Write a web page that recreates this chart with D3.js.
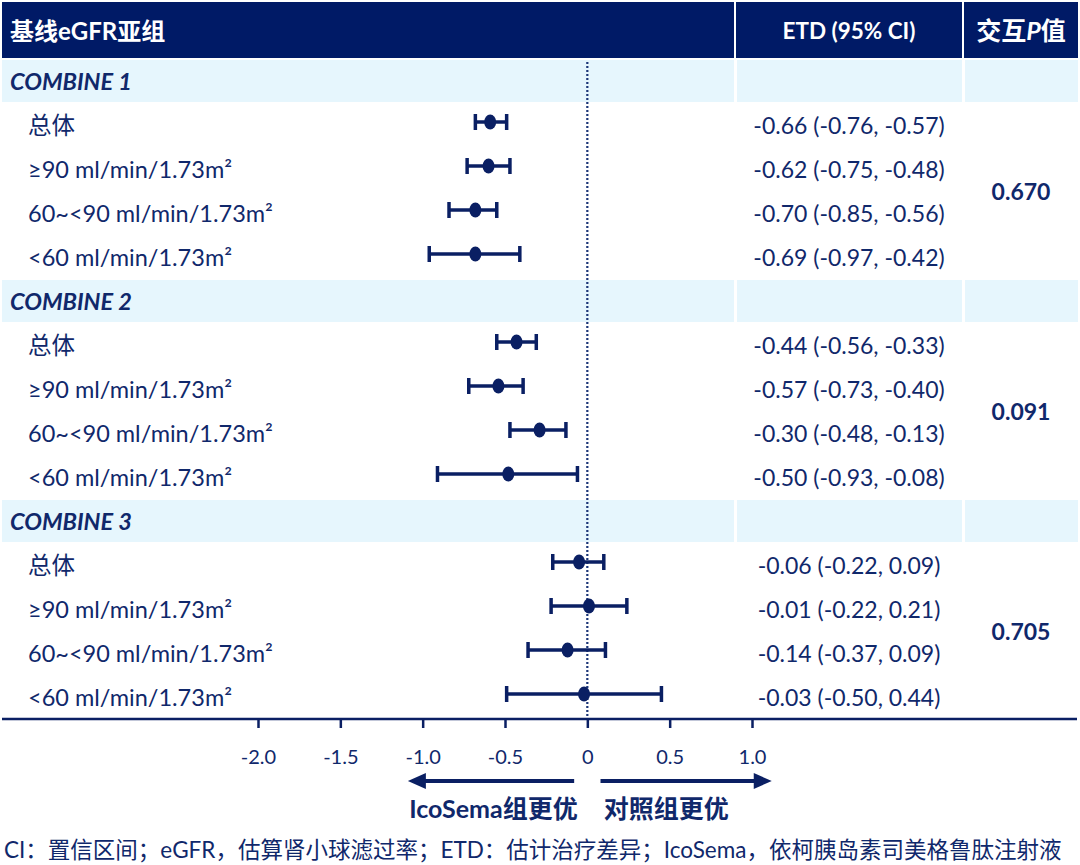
<!DOCTYPE html>
<html>
<head>
<meta charset="utf-8">
<script src="https://cdn.jsdelivr.net/npm/d3@7"></script>
<style>
  body { margin: 0; background: #fff; }
  svg { display: block; }
  text { font-family: Lato, "Noto Sans CJK SC", sans-serif; }
</style>
</head>
<body>
<svg id="chart" width="1080" height="865"></svg>
<script>
// groups and subgroup labels
var groups = ["COMBINE 1", "COMBINE 2", "COMBINE 3"];
var subgroups = ["总体", "≥90 ml/min/1.73m²", "60~<90 ml/min/1.73m²", "<60 ml/min/1.73m²"];

// plotted estimates, read off the markers (group by group, 4 subgroups each)
var est = [-0.59, -0.60, -0.68, -0.68,
           -0.43, -0.54, -0.29, -0.48,
           -0.05,  0.01, -0.12, -0.02];
var lower = [-0.68, -0.73, -0.84, -0.96,
             -0.55, -0.72, -0.47, -0.91,
             -0.21, -0.22, -0.36, -0.49];
var upper = [-0.49, -0.47, -0.55, -0.41,
             -0.31, -0.39, -0.13, -0.06,
              0.10,  0.24,  0.11,  0.45];

// printed ETD column
var etdLabels = ["-0.66 (-0.76, -0.57)", "-0.62 (-0.75, -0.48)", "-0.70 (-0.85, -0.56)", "-0.69 (-0.97, -0.42)",
                 "-0.44 (-0.56, -0.33)", "-0.57 (-0.73, -0.40)", "-0.30 (-0.48, -0.13)", "-0.50 (-0.93, -0.08)",
                 "-0.06 (-0.22, 0.09)", "-0.01 (-0.22, 0.21)", "-0.14 (-0.37, 0.09)", "-0.03 (-0.50, 0.44)"];
var pValues = ["0.670", "0.091", "0.705"];

var tickValues = [-2, -1.5, -1, -0.5, 0, 0.5, 1];
var tickLabels = ["-2.0", "-1.5", "-1.0", "-0.5", "0", "0.5", "1.0"];

var navy = "#001a66";
var ink = "#10286b";
var mark = "#0a1f63";
var band = "#e6f6fd";

var svg = d3.select("#chart");
var x = d3.scaleLinear().domain([-2, 1]).range([258, 752]);

var rowH = 44;
var firstRow = 125;
function rowY(idx) { return firstRow + rowH * (idx - 1); }

// columns: label / plot, ETD, P
var cols = [[2, 734], [736, 962], [964, 1078]];

// header bar
svg.selectAll("rect.head")
  .data(cols)
  .enter()
  .append("rect")
  .attr("class", "head")
  .attr("x", function(d) { return d[0]; })
  .attr("width", function(d) { return d[1] - d[0]; })
  .attr("y", 2)
  .attr("height", 56)
  .attr("fill", navy);

svg.append("text")
  .attr("x", 10).attr("y", 30)
  .attr("dominant-baseline", "central")
  .attr("font-size", 24).attr("font-weight", "bold")
  .attr("fill", "#fff")
  .text("基线eGFR亚组");

svg.append("text")
  .attr("x", 849).attr("y", 30)
  .attr("dominant-baseline", "central")
  .attr("text-anchor", "middle")
  .attr("font-size", 22.5).attr("font-weight", "bold")
  .attr("fill", "#fff")
  .text("ETD (95% CI)");

var pHead = svg.append("text")
  .attr("x", 1021).attr("y", 30)
  .attr("dominant-baseline", "central")
  .attr("text-anchor", "middle")
  .attr("font-size", 25).attr("font-weight", "bold")
  .attr("fill", "#fff");
pHead.append("tspan").text("交互");
pHead.append("tspan").attr("font-style", "italic").text("P");
pHead.append("tspan").text("值");

// group bands
groups.forEach(function(g, gi) {
  var cy = rowY(gi * 5);
  svg.selectAll("rect.band" + gi)
    .data(cols)
    .enter()
    .append("rect")
    .attr("x", function(d, i) { return d[0] + (i > 0 ? 1 : 0); })
    .attr("width", function(d, i) { return d[1] - d[0] - (i > 0 ? 1 : 0); })
    .attr("y", cy - 21)
    .attr("height", 42)
    .attr("fill", band);

  svg.append("text")
    .attr("x", 10).attr("y", cy)
    .attr("dominant-baseline", "central")
    .attr("font-size", 23.5).attr("font-weight", "bold").attr("font-style", "italic")
    .attr("fill", ink)
    .text(g);

  svg.append("text")
    .attr("x", 1021).attr("y", (rowY(gi * 5 + 2) + rowY(gi * 5 + 3)) / 2)
    .attr("dominant-baseline", "central")
    .attr("text-anchor", "middle")
    .attr("font-size", 23).attr("font-weight", "bold")
    .attr("fill", ink)
    .text(pValues[gi]);
});

// one record per subgroup row
var rows = est.map(function(e, i) {
  var gi = Math.floor(i / 4);
  return {
    idx: gi * 5 + (i % 4) + 1,
    label: subgroups[i % 4],
    est: e, lo: lower[i], hi: upper[i],
    etd: etdLabels[i]
  };
});

// zero reference line
svg.append("line")
  .attr("x1", x(0)).attr("x2", x(0))
  .attr("y1", 62).attr("y2", 719)
  .attr("stroke", "#1b3577")
  .attr("stroke-width", 2.2)
  .attr("stroke-dasharray", "2,2");

var r = svg.selectAll("g.row")
  .data(rows)
  .enter()
  .append("g")
  .attr("class", "row");

r.append("text")
  .attr("x", 28)
  .attr("y", function(d) { return rowY(d.idx); })
  .attr("dominant-baseline", "central")
  .attr("font-size", 23.5)
  .attr("fill", ink)
  .text(function(d) { return d.label; });

r.append("text")
  .attr("x", 849)
  .attr("y", function(d) { return rowY(d.idx); })
  .attr("dominant-baseline", "central")
  .attr("text-anchor", "middle")
  .attr("font-size", 23)
  .attr("fill", ink)
  .text(function(d) { return d.etd; });

var my = function(d) { return rowY(d.idx) - 3; };

r.append("line")
  .attr("x1", function(d) { return x(d.lo); })
  .attr("x2", function(d) { return x(d.hi); })
  .attr("y1", my).attr("y2", my)
  .attr("stroke", mark).attr("stroke-width", 3.5);

r.append("line")
  .attr("x1", function(d) { return x(d.lo); })
  .attr("x2", function(d) { return x(d.lo); })
  .attr("y1", function(d) { return my(d) - 8; })
  .attr("y2", function(d) { return my(d) + 8; })
  .attr("stroke", mark).attr("stroke-width", 3.5);

r.append("line")
  .attr("x1", function(d) { return x(d.hi); })
  .attr("x2", function(d) { return x(d.hi); })
  .attr("y1", function(d) { return my(d) - 8; })
  .attr("y2", function(d) { return my(d) + 8; })
  .attr("stroke", mark).attr("stroke-width", 3.5);

r.append("ellipse")
  .attr("cx", function(d) { return x(d.est); })
  .attr("cy", my)
  .attr("rx", 6).attr("ry", 7.5)
  .attr("fill", mark);

// x axis
svg.append("line")
  .attr("x1", 2).attr("x2", 1077)
  .attr("y1", 719).attr("y2", 719)
  .attr("stroke", mark).attr("stroke-width", 2.5);

var axis = svg.append("g")
  .attr("transform", "translate(0,719)")
  .call(d3.axisBottom(x)
    .tickValues(tickValues)
    .tickSize(9)
    .tickPadding(22)
    .tickFormat(function(d, i) { return tickLabels[i]; }));
axis.select(".domain").remove();
axis.selectAll(".tick line").attr("stroke", mark).attr("stroke-width", 2.5);
axis.selectAll(".tick text")
  .attr("fill", ink)
  .attr("font-size", 20)
  .style("font-family", "Lato, sans-serif");

// direction arrows
var arrowY = 781;
function arrow(from, to) {
  var dir = to > from ? 1 : -1;
  svg.append("line")
    .attr("x1", x(from)).attr("x2", x(to) - dir * 14)
    .attr("y1", arrowY).attr("y2", arrowY)
    .attr("stroke", mark).attr("stroke-width", 4);
  var tip = x(to);
  svg.append("path")
    .attr("d", "M" + tip + "," + arrowY +
      " L" + (tip - dir * 18) + "," + (arrowY - 8) +
      " L" + (tip - dir * 18) + "," + (arrowY + 8) + " Z")
    .attr("fill", mark);
}
arrow(-0.08, -1.09);
arrow(0.08, 1.12);

svg.append("text")
  .attr("x", x(-0.57)).attr("y", 808)
  .attr("dominant-baseline", "central")
  .attr("text-anchor", "middle")
  .attr("font-size", 25).attr("font-weight", "bold")
  .attr("fill", ink)
  .text("IcoSema组更优");

svg.append("text")
  .attr("x", x(0.48)).attr("y", 808)
  .attr("dominant-baseline", "central")
  .attr("text-anchor", "middle")
  .attr("font-size", 25).attr("font-weight", "bold")
  .attr("fill", ink)
  .text("对照组更优");

// footnote
svg.append("text")
  .attr("x", 4).attr("y", 849)
  .attr("dominant-baseline", "central")
  .attr("font-size", 22.5)
  .attr("fill", ink)
  .text("CI：置信区间；eGFR，估算肾小球滤过率；ETD：估计治疗差异；IcoSema，依柯胰岛素司美格鲁肽注射液");
</script>
</body>
</html>
